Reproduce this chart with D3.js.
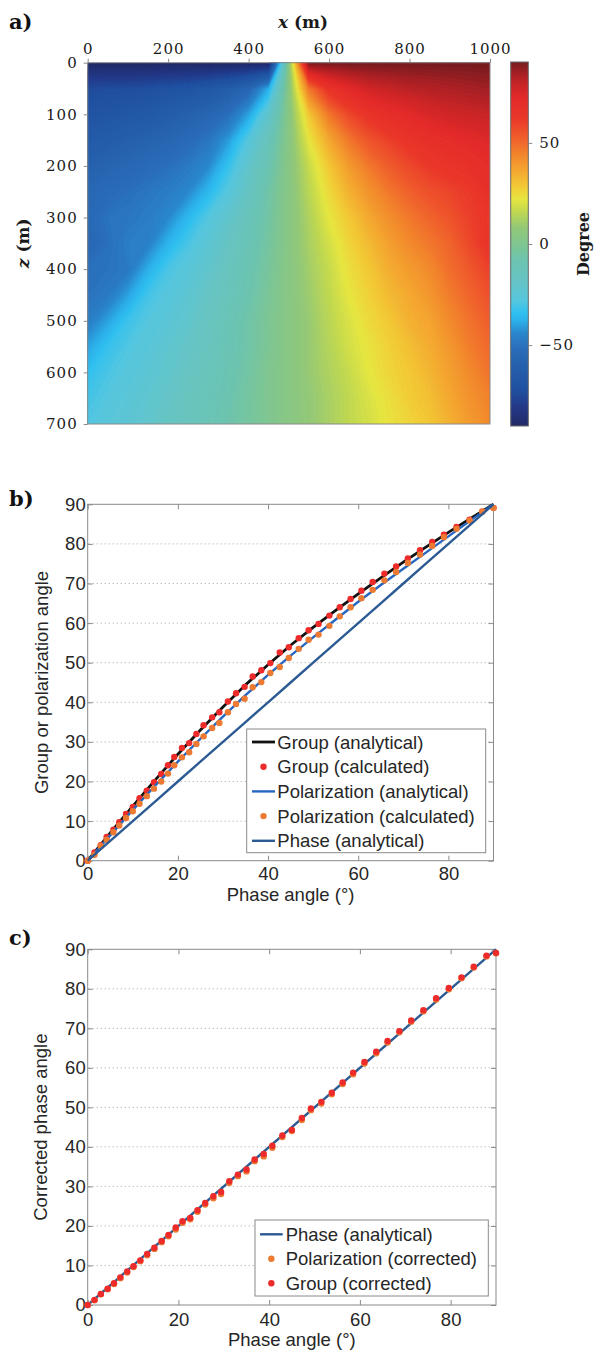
<!DOCTYPE html>
<html>
<head>
<meta charset="utf-8">
<script src="https://cdn.jsdelivr.net/npm/d3@7"></script>
<style>
  body { margin: 0; background: #fff; }
  svg { display: block; }
</style>
</head>
<body>
<svg id="fig" width="595" height="1351"></svg>
<script>
// ---------------- data: panel a (angle field, degrees) ----------------
const gridX = [0, 50, 100, 150, 200, 250, 300, 350, 400, 450, 500, 550, 600, 650, 700, 750, 800, 850, 900, 950, 1000];
const gridZ = [0, 50, 100, 150, 200, 250, 300, 350, 400, 450, 500, 550, 600, 650, 700];
const angleGrid = [
  [-90, -90, -90, -90, -90, -90, -90, -90, -90, -90, 4, 90, 90, 90, 90, 90, 90, 90, 90, 90, 90],
  [-74, -73, -73, -72, -70, -69, -66, -62, -55, -38, 4, 47, 65, 72, 77, 79, 81, 82, 83, 84, 85],
  [-69, -68, -66, -65, -62, -59, -56, -51, -40, -21, 4, 29, 47, 58, 65, 69, 72, 75, 77, 78, 79],
  [-64, -62, -60, -58, -56, -53, -49, -41, -27, -13, 4, 22, 36, 47, 55, 60, 65, 68, 70, 72, 74],
  [-59, -57, -55, -53, -51, -48, -44, -33, -21, -9, 4, 17, 29, 39, 47, 53, 58, 62, 65, 67, 70],
  [-55, -53, -51, -49, -47, -44, -36, -27, -17, -6, 4, 15, 25, 34, 41, 47, 52, 56, 59, 62, 68],
  [-54, -50, -49, -47, -44, -36, -28, -21, -13, -5, 4, 13, 22, 29, 36, 42, 47, 51, 55, 60, 64],
  [-55, -51, -47, -46, -37, -30, -24, -17, -11, -4, 4, 12, 19, 26, 32, 38, 43, 47, 51, 58, 65],
  [-51, -50, -48, -38, -30, -26, -21, -15, -9, -3, 4, 11, 17, 24, 29, 35, 39, 43, 49, 54, 60],
  [-50, -48, -40, -31, -27, -23, -18, -13, -8, -2, 4, 10, 16, 22, 27, 32, 36, 40, 46, 51, 56],
  [-47, -40, -32, -28, -25, -21, -16, -11, -6, -1, 4, 9, 15, 20, 25, 29, 34, 37, 43, 48, 53],
  [-40, -33, -29, -26, -22, -19, -15, -10, -6, -1, 4, 9, 14, 19, 23, 27, 31, 35, 40, 46, 50],
  [-34, -30, -27, -24, -21, -17, -13, -9, -5, 0, 4, 9, 13, 17, 22, 26, 29, 33, 38, 43, 48],
  [-31, -28, -25, -22, -19, -15, -12, -8, -4, 0, 4, 8, 12, 16, 20, 24, 28, 31, 36, 41, 45],
  [-29, -26, -24, -21, -17, -14, -11, -7, -4, 0, 4, 8, 12, 16, 19, 23, 26, 29, 34, 39, 43]
];
const xTicksA = [0, 200, 400, 600, 800, 1000];
const zTicksA = [0, 100, 200, 300, 400, 500, 600, 700];
const degreeTicks = [-50, 0, 50];
const degreeRange = [-90, 90];

// ---------------- data: panel b ----------------
const curvePhase = [0, 5, 10, 15, 20, 25, 30, 35, 40, 45, 50, 55, 60, 65, 70, 75, 80, 85, 90];
const groupAnalytical = [0, 7.0, 13.8, 20.4, 26.9, 33.0, 38.8, 44.4, 49.5, 54.4, 58.9, 63.2, 67.4, 71.4, 75.4, 79.2, 82.9, 86.5, 90];
const polarAnalytical = [0, 6.4, 12.8, 19.0, 25.0, 30.8, 36.4, 41.8, 46.9, 51.8, 56.4, 60.9, 65.4, 69.6, 73.7, 77.8, 81.9, 86.0, 90];
const phaseAnalytical = [0, 5, 10, 15, 20, 25, 30, 35, 40, 45, 50, 55, 60, 65, 70, 75, 80, 85, 90];
const calcPhase = [0, 1.5, 2.9, 4.2, 5.7, 7.0, 8.5, 10.0, 11.5, 13.1, 14.7, 16.3, 17.8, 19.2, 20.9, 22.5, 24.1, 25.7, 27.6, 29.2, 31.1, 32.9, 34.8, 36.6, 38.5, 40.5, 42.6, 44.6, 46.8, 49.0, 51.2, 53.6, 55.9, 58.3, 60.7, 63.2, 65.8, 68.4, 71.0, 73.7, 76.4, 79.0, 81.8, 84.7, 87.5, 90.0];
const groupCalculated = [0, 2.1, 3.9, 6.0, 7.8, 9.7, 11.8, 13.6, 15.8, 17.7, 19.8, 21.9, 24.1, 26.2, 28.5, 29.7, 32.0, 34.2, 36.2, 37.5, 40.2, 42.3, 43.9, 46.5, 48.1, 49.9, 52.6, 53.9, 56.2, 58.2, 59.8, 61.9, 64.0, 66.1, 68.2, 70.4, 72.5, 74.3, 76.3, 78.4, 80.5, 82.3, 84.3, 86.1, 88.1, 89.1];
const polarCalculated = [0, 1.5, 3.7, 5.3, 7.2, 8.9, 10.8, 12.5, 14.4, 16.3, 18.2, 20.0, 22.0, 24.1, 26.1, 27.4, 29.5, 31.4, 33.5, 34.8, 37.5, 39.6, 40.9, 43.8, 45.1, 47.4, 48.9, 51.2, 53.5, 55.8, 57.1, 59.3, 61.7, 64.0, 66.3, 68.4, 70.8, 72.9, 75.2, 77.3, 79.5, 81.7, 83.8, 85.9, 88.2, 89.1];

// ---------------- data: panel c ----------------
const linePhaseC = [0, 90];
const phaseAnalyticalC = [0, 90];
const corrPhase = [0, 1.5, 2.9, 4.4, 5.8, 7.2, 8.7, 10.1, 11.6, 13.1, 14.7, 16.3, 17.8, 19.4, 20.9, 22.6, 24.2, 25.9, 27.7, 29.4, 31.2, 33.1, 35.0, 36.8, 38.8, 40.7, 42.9, 45.0, 47.2, 49.2, 51.5, 53.8, 56.2, 58.5, 61.0, 63.6, 66.1, 68.7, 71.3, 74.0, 76.8, 79.6, 82.4, 85.1, 87.9, 90.0];
const polarCorrected = [0, 1.2, 2.7, 4.0, 5.3, 6.8, 8.2, 9.6, 11.1, 12.6, 14.2, 15.9, 17.4, 19.1, 20.8, 21.7, 23.6, 25.4, 27.0, 28.1, 30.9, 32.6, 33.8, 36.4, 37.6, 39.8, 42.5, 44.0, 46.8, 49.3, 51.0, 53.3, 55.9, 58.4, 61.1, 63.7, 66.4, 69.0, 71.7, 74.3, 77.3, 79.9, 82.7, 85.4, 88.2, 89.0];
const groupCorrected = [0, 1.3, 2.8, 4.1, 5.5, 7.0, 8.5, 9.8, 11.3, 12.9, 14.5, 16.2, 17.7, 19.6, 21.2, 22.0, 24.0, 25.8, 27.5, 28.6, 31.3, 33.0, 34.3, 36.8, 38.2, 40.3, 42.9, 44.3, 47.3, 49.7, 51.4, 53.7, 56.3, 58.8, 61.5, 64.1, 66.8, 69.3, 72.0, 74.6, 77.6, 80.2, 82.9, 85.6, 88.4, 89.1];
const angleTicks = [0, 10, 20, 30, 40, 50, 60, 70, 80, 90];
const phaseTicks = [0, 20, 40, 60, 80];

// ---------------- styles ----------------
const cmapStops = [-90, -80, -72, -60, -52, -44, -38, -34, -28, -18, -8, 0, 8, 16, 22, 28, 36, 44, 52, 62, 72, 78, 84, 90];
const cmapColors = ['#222a66', '#233a8a', '#2050a0', '#2560ac', '#2a6cb8', '#2a88cc', '#2cb0ea', '#30c0f0', '#56c6de', '#66c4c4',
                    '#6cc4b0', '#80c690', '#92c878', '#c0d850', '#e6e640', '#f2cc36', '#f4a830', '#f2862c', '#f0602c', '#ea382a',
                    '#e42a2a', '#cc2527', '#a82024', '#741c20'];
const SERIF = "'DejaVu Serif', serif";
const SANS = "'Liberation Sans', Arial, Helvetica, sans-serif";
const INK = '#262626';
const FRAME = '#8a8a8a';
const C_BLACK = '#111111', C_POL = '#2766c0', C_PHASE = '#2c5a93', C_RED = '#ee2b2b', C_ORANGE = '#ec7a32';

const svg = d3.select('#fig');
const cmap = d3.scaleLinear().domain(cmapStops).range(cmapColors).interpolate(d3.interpolateRgb).clamp(true);

// =================== panel a : angle field ===================
const xA = d3.scaleLinear().domain(d3.extent(gridX)).range([87.7, 490]);
const zA = d3.scaleLinear().domain(d3.extent(gridZ)).range([62.7, 424]);

const defs = svg.append('defs');
defs.append('clipPath').attr('id', 'clip-field').append('rect')
  .attr('x', xA(0)).attr('y', zA(0)).attr('width', xA(1000) - xA(0)).attr('height', zA(700) - zA(0));

const nx = gridX.length, nz = gridZ.length;
const stepX = gridX[1] - gridX[0], stepZ = gridZ[1] - gridZ[0];
const bands = d3.contours().size([nx, nz]).thresholds(d3.range(degreeRange[0], degreeRange[1] + 1, 1))(angleGrid.flat());
const toPlot = d3.geoTransform({
  point(px, py) { this.stream.point(xA(gridX[0] + (px - 0.5) * stepX), zA(gridZ[0] + (py - 0.5) * stepZ)); }
});
const fieldPath = d3.geoPath(toPlot);

svg.append('g').attr('clip-path', 'url(#clip-field)')
  .selectAll('path').data(bands).join('path')
  .attr('d', fieldPath)
  .attr('fill', d => cmap(d.value + 0.5))
  .attr('stroke', d => cmap(d.value + 0.5)).attr('stroke-width', 0.3);

svg.append('rect').attr('x', xA(0)).attr('y', zA(0))
  .attr('width', xA(1000) - xA(0)).attr('height', zA(700) - zA(0))
  .attr('fill', 'none').attr('stroke', FRAME).attr('stroke-width', 1);

function styleSerifTicks(g) {
  g.select('.domain').remove();
  g.selectAll('.tick line').attr('stroke', FRAME);
  g.selectAll('.tick text').attr('fill', '#1a1a1a').style('font-family', SERIF)
    .style('font-size', '15px').style('letter-spacing', '1px');
}
svg.append('g').attr('transform', `translate(0,${zA(0)})`)
  .call(d3.axisTop(xA).tickValues(xTicksA).tickFormat(d3.format('d')).tickSize(4).tickPadding(5).tickSizeOuter(0))
  .call(styleSerifTicks);
svg.append('g').attr('transform', `translate(${xA(0)},0)`)
  .call(d3.axisLeft(zA).tickValues(zTicksA).tickFormat(d3.format('d')).tickSize(4).tickPadding(6).tickSizeOuter(0))
  .call(styleSerifTicks);

// axis titles
const xTitle = svg.append('text').attr('x', 278).attr('y', 28)
  .style('font-family', SERIF).style('font-size', '17px').style('font-weight', 'bold').attr('fill', '#1a1a1a');
xTitle.append('tspan').style('font-style', 'italic').text('x');
xTitle.append('tspan').text(' (m)');
const zTitle = svg.append('text').attr('transform', `translate(29,${(zA(0) + zA(700)) / 2}) rotate(-90)`)
  .attr('text-anchor', 'middle')
  .style('font-family', SERIF).style('font-size', '17px').style('font-weight', 'bold').attr('fill', '#1a1a1a');
zTitle.append('tspan').style('font-style', 'italic').text('z');
zTitle.append('tspan').text(' (m)');

// colour bar
const cbX0 = 510.7, cbX1 = 528.3;
const cbY = d3.scaleLinear().domain(degreeRange).range([426, 62]);
const grad = defs.append('linearGradient').attr('id', 'cbar')
  .attr('x1', 0).attr('y1', 1).attr('x2', 0).attr('y2', 0);
grad.selectAll('stop').data(cmapStops).join('stop')
  .attr('offset', d => (d - degreeRange[0]) / (degreeRange[1] - degreeRange[0]))
  .attr('stop-color', d => cmap(d));
svg.append('rect').attr('x', cbX0).attr('y', cbY(90)).attr('width', cbX1 - cbX0).attr('height', cbY(-90) - cbY(90))
  .attr('fill', 'url(#cbar)').attr('stroke', '#6a6a6a').attr('stroke-width', 1);
svg.append('g').attr('transform', `translate(${cbX1},0)`)
  .call(d3.axisRight(cbY).tickValues(degreeTicks).tickSize(4).tickPadding(7)
    .tickFormat(d => d < 0 ? '\u2212' + Math.abs(d) : d).tickSizeOuter(0))
  .call(styleSerifTicks);
svg.append('text').attr('transform', `translate(589,${cbY(0)}) rotate(-90)`).attr('text-anchor', 'middle')
  .style('font-family', SERIF).style('font-size', '16px').style('font-weight', 'bold').attr('fill', '#1a1a1a')
  .text('Degree');

// =================== shared line-panel builder ===================
function panelFrame(x, y, xLabel, yLabel, yLabelX, xLabelY, tickPad) {
  const g = svg.append('g');
  const [x0, x1] = x.range(), [y0, y1] = y.range();
  // horizontal dotted grid
  g.selectAll('line.grid').data(angleTicks.filter(v => v > 0 && v < 90)).join('line')
    .attr('x1', x0 + 1).attr('x2', x1 - 1).attr('y1', d => y(d)).attr('y2', d => y(d))
    .attr('stroke', '#b4b4b4').attr('stroke-width', 1).attr('stroke-dasharray', '1.2,2.8');
  g.append('rect').attr('x', x0).attr('y', y1).attr('width', x1 - x0).attr('height', y0 - y1)
    .attr('fill', 'none').attr('stroke', FRAME).attr('stroke-width', 1);
  const tickStyle = gg => {
    gg.select('.domain').remove();
    gg.selectAll('.tick line').attr('stroke', FRAME);
    gg.selectAll('.tick text').attr('fill', INK).style('font-family', SANS).style('font-size', '18.5px');
  };
  g.append('g').attr('transform', `translate(0,${y0})`)
    .call(d3.axisBottom(x).tickValues(phaseTicks).tickSize(-5).tickPadding(tickPad).tickSizeOuter(0)).call(tickStyle);
  g.append('g').attr('transform', `translate(0,${y1})`)
    .call(d3.axisTop(x).tickValues(phaseTicks).tickSize(-5).tickFormat('').tickSizeOuter(0)).call(tickStyle);
  g.append('g').attr('transform', `translate(${x0},0)`)
    .call(d3.axisLeft(y).tickValues(angleTicks).tickSize(-5).tickPadding(2).tickSizeOuter(0)).call(tickStyle);
  g.append('g').attr('transform', `translate(${x1},0)`)
    .call(d3.axisRight(y).tickValues(angleTicks).tickSize(-5).tickFormat('').tickSizeOuter(0)).call(tickStyle);
  g.append('text').attr('x', (x0 + x1) / 2).attr('y', xLabelY).attr('text-anchor', 'middle')
    .attr('fill', INK).style('font-family', SANS).style('font-size', '18.5px').text(xLabel);
  g.append('text').attr('transform', `translate(${yLabelX},${(y0 + y1) / 2}) rotate(-90)`).attr('text-anchor', 'middle')
    .attr('fill', INK).style('font-family', SANS).style('font-size', '18.5px').text(yLabel);
  return g;
}
function drawLine(g, x, y, xs, ys, color, width) {
  g.append('path').datum(xs.map((v, i) => [v, ys[i]]))
    .attr('d', d3.line().x(d => x(d[0])).y(d => y(d[1])))
    .attr('fill', 'none').attr('stroke', color).attr('stroke-width', width).attr('stroke-linejoin', 'round');
}
function drawDots(g, x, y, xs, ys, color) {
  g.append('g').selectAll('circle').data(xs.map((v, i) => [v, ys[i]])).join('circle')
    .attr('cx', d => x(d[0])).attr('cy', d => y(d[1])).attr('r', 3.2).attr('fill', color);
}
function drawLegend(box, rows) {
  const g = svg.append('g');
  g.append('rect').attr('x', box.x0).attr('y', box.y0).attr('width', box.x1 - box.x0).attr('height', box.y1 - box.y0)
    .attr('fill', '#fff').attr('stroke', FRAME).attr('stroke-width', 1);
  rows.forEach((r, i) => {
    const cy = box.r0 + i * box.dy;
    if (r.type === 'line') {
      g.append('line').attr('x1', box.l0).attr('x2', box.l1).attr('y1', cy).attr('y2', cy)
        .attr('stroke', r.color).attr('stroke-width', r.width);
    } else {
      g.append('circle').attr('cx', (box.l0 + box.l1) / 2).attr('cy', cy).attr('r', 3.2).attr('fill', r.color);
    }
    g.append('text').attr('x', box.tx).attr('y', cy).attr('dy', '0.36em')
      .attr('fill', INK).style('font-family', SANS).style('font-size', '18.5px').text(r.label);
  });
}
function panelLetter(txt, x, y) {
  svg.append('text').attr('x', x).attr('y', y).text(txt)
    .style('font-family', SERIF).style('font-size', '21px').style('font-weight', 'bold').attr('fill', '#111');
}

// =================== panel b ===================
const xB = d3.scaleLinear().domain([0, 90]).range([87.7, 493.5]);
const yB = d3.scaleLinear().domain([0, 90]).range([860.7, 504.3]);
const gB = panelFrame(xB, yB, 'Phase angle (\u00B0)', 'Group or polarization angle', 48, 901, 6);
drawLine(gB, xB, yB, curvePhase, groupAnalytical, C_BLACK, 2.8);
drawDots(gB, xB, yB, calcPhase, groupCalculated, C_RED);
drawLine(gB, xB, yB, curvePhase, polarAnalytical, C_POL, 2.4);
drawDots(gB, xB, yB, calcPhase, polarCalculated, C_ORANGE);
drawLine(gB, xB, yB, curvePhase, phaseAnalytical, C_PHASE, 2.4);
drawLegend({ x0: 246.7, x1: 485.7, y0: 729, y1: 852.7, r0: 742, dy: 24.7, l0: 252, l1: 275, tx: 277.3 }, [
  { type: 'line', color: C_BLACK, width: 2.8, label: 'Group (analytical)' },
  { type: 'dot', color: C_RED, label: 'Group (calculated)' },
  { type: 'line', color: C_POL, width: 2.4, label: 'Polarization (analytical)' },
  { type: 'dot', color: C_ORANGE, label: 'Polarization (calculated)' },
  { type: 'line', color: C_PHASE, width: 2.4, label: 'Phase (analytical)' }
]);

// =================== panel c ===================
const xC = d3.scaleLinear().domain([0, 90]).range([87.7, 496]);
const yC = d3.scaleLinear().domain([0, 90]).range([1305, 949.3]);
const gC = panelFrame(xC, yC, 'Phase angle (\u00B0)', 'Corrected phase angle', 47, 1346, 8);
drawLine(gC, xC, yC, linePhaseC, phaseAnalyticalC, C_PHASE, 2.4);
drawDots(gC, xC, yC, corrPhase, polarCorrected, C_ORANGE);
drawDots(gC, xC, yC, corrPhase, groupCorrected, C_RED);
drawLegend({ x0: 255, x1: 488.3, y0: 1220, y1: 1296, r0: 1234.3, dy: 24.5, l0: 260, l1: 282.7, tx: 285.7 }, [
  { type: 'line', color: C_PHASE, width: 2.4, label: 'Phase (analytical)' },
  { type: 'dot', color: C_ORANGE, label: 'Polarization (corrected)' },
  { type: 'dot', color: C_RED, label: 'Group (corrected)' }
]);

// panel letters
panelLetter('a)', 9, 29);
panelLetter('b)', 9, 506);
panelLetter('c)', 9, 945);
</script>
</body>
</html>
